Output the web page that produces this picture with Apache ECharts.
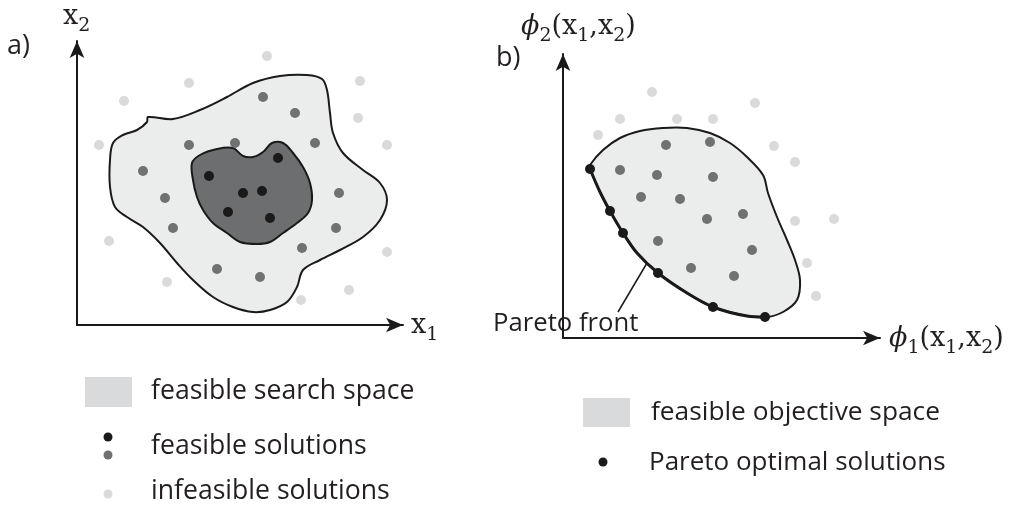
<!DOCTYPE html>
<html><head><meta charset="utf-8">
<script src="https://cdn.jsdelivr.net/npm/echarts@6/dist/echarts.min.js"></script>
<style>html,body{margin:0;padding:0;background:#fff}#c{width:1017px;height:510px}</style>
</head><body><div id="c"></div>
<script>
// ---- Panel a (decision space), units relative to axis origin ----
const outerA = [[71,208],[96,206],[123,215],[150,228],[176,242],[203,249],[230,250],[245,246],[250,235],[253,212],[256,192],[266,172],[286,155],[303,142],[310,125],[303,105],[286,88],[263,75],[243,65],[226,55],[220,38],[210,23],[193,15],[176,13],[156,18],[136,28],[116,45],[100,62],[83,82],[66,98],[50,108],[38,118],[33,138],[33,165],[36,182],[46,190],[60,195],[70,203]];
const innerA = [[115,162],[123,170],[140,176],[156,177],[166,169],[176,168],[186,173],[195,182],[206,182],[216,172],[226,158],[233,142],[235,125],[231,112],[220,102],[206,92],[193,83],[180,81],[163,83],[150,92],[136,102],[126,115],[120,128],[116,145]];
const infeasibleA = [[190,269],[112,242],[47,224],[283,244],[281,207],[22,180],[310,180],[32,84],[310,73],[90,43],[272,35],[224,25]];
const feasibleA = [[186,228],[218,212],[112,180],[158,182],[238,182],[66,154],[88,127],[262,132],[96,97],[259,97],[225,77],[140,56],[183,48]];
const bestA = [[201,167],[132,149],[166,132],[185,134],[151,113],[193,107]];

// ---- Panel b (objective space) ----
const regionB = [[27,173],[40,188],[57,200],[77,207],[100,210],[124,210],[147,205],[167,195],[184,181],[200,163],[205,145],[214,121],[224,98],[232,78],[237,58],[234,38],[220,26],[204,21],[184,22],[150,31],[124,45],[95,65],[74,85],[60,105],[47,127],[37,146],[27,169]];
const paretoFront = [[27,169],[37,146],[47,127],[60,105],[74,85],[95,65],[124,45],[150,31],[184,22],[204,21]];
const paretoPointer = [[84,75],[55,26]];
const infeasibleB = [[89,246],[192,235],[57,219],[114,219],[150,219],[35,203],[211,192],[232,176],[232,117],[271,119],[244,75],[253,42]];
const feasibleB = [[103,193],[147,196],[57,168],[94,163],[150,161],[78,141],[117,139],[180,124],[144,119],[95,97],[189,88],[128,70],[171,62]];
const paretoOptimal = [[27,169],[47,127],[60,105],[95,65],[150,31],[202,21]];

// ---- texts ----
const panelLabels = ['a)', 'b)'];
const axisNamesA = ['{m|x}{s|1}', '{m|x}{s|2}'];
const axisNamesB = ['{p|ϕ}{s|1}{m|(x}{s|1}{m|,x}{s|2}{m|)}', '{p|ϕ}{s|2}{m|(x}{s|1}{m|,x}{s|2}{m|)}'];
const legendA = ['feasible search space', 'feasible solutions', 'infeasible solutions'];
const legendB = ['feasible objective space', 'Pareto optimal solutions'];
const frontLabel = 'Pareto front';

const INK = '#1a1a1a', LIGHT = '#d9dadc', MID = '#707173', DARK = '#6d6e70', FILL = '#ebecec', TXT = '#231f20';
const SANS = '"Open Sans", "Noto Sans", sans-serif';
const SERIF = '"DejaVu Serif", serif';

function axisBase(max) {
  return {
    type: 'value', min: 0, max: max,
    axisLine: { show: true, onZero: false, symbol: ['none', 'arrow'], symbolSize: [11, 17], lineStyle: { color: INK, width: 2 } },
    axisTick: { show: false }, axisLabel: { show: false }, splitLine: { show: false }
  };
}
function region(xi, pts, fill, lw) {
  return {
    type: 'custom', xAxisIndex: xi, yAxisIndex: xi, data: pts, silent: true, z: 1,
    renderItem: function (params, api) {
      if (params.dataIndex !== 0) return null;
      const points = pts.map(function (p) { return api.coord(p); });
      return { type: 'polygon', shape: { points: points, smooth: 0.35 }, style: { fill: fill, stroke: INK, lineWidth: lw } };
    }
  };
}
function dots(xi, data, color, size) {
  return { type: 'scatter', xAxisIndex: xi, yAxisIndex: xi, data: data, symbolSize: size, silent: true, z: 5,
    itemStyle: { color: color, opacity: 1 } };
}
function txt(x, y, text, font, align) {
  return { type: 'text', x: x, y: y, silent: true, z: 10,
    style: { text: text, font: font, fill: TXT, align: align || 'left', verticalAlign: 'middle' } };
}
const mathRich = {
  m: { fontFamily: SERIF, fontSize: 27, lineHeight: 38, verticalAlign: 'middle', fill: TXT },
  p: { fontFamily: SERIF, fontStyle: 'italic', fontSize: 27, lineHeight: 38, verticalAlign: 'middle', fill: TXT },
  s: { fontFamily: SERIF, fontSize: 19, lineHeight: 24, verticalAlign: 'bottom', fill: TXT }
};
function mathTxt(x, y, text) {
  return { type: 'text', x: x, y: y, silent: true, z: 10,
    style: { text: text, rich: mathRich, fill: TXT, align: 'left', verticalAlign: 'middle' } };
}

const chart = echarts.init(document.getElementById('c'), null, { renderer: 'canvas' });
chart.setOption({
  animation: false,
  backgroundColor: '#fff',
  grid: [
    { left: 77, top: 41, width: 326, height: 284 },
    { left: 563, top: 54, width: 317, height: 284 }
  ],
  xAxis: [Object.assign(axisBase(326), { gridIndex: 0 }), Object.assign(axisBase(317), { gridIndex: 1 })],
  yAxis: [Object.assign(axisBase(284), { gridIndex: 0 }), Object.assign(axisBase(284), { gridIndex: 1 })],
  series: [
    region(0, outerA, FILL, 2),
    region(0, innerA, DARK, 2),
    dots(0, infeasibleA, LIGHT, 10),
    dots(0, feasibleA, MID, 10),
    dots(0, bestA, INK, 10),
    region(1, regionB, FILL, 2),
    { type: 'line', xAxisIndex: 1, yAxisIndex: 1, data: paretoFront, smooth: 0.3, symbol: 'none', silent: true, z: 3,
      lineStyle: { color: INK, width: 3 } },
    { type: 'line', xAxisIndex: 1, yAxisIndex: 1, data: paretoPointer, symbol: 'none', silent: true, z: 3,
      lineStyle: { color: INK, width: 1.5 } },
    dots(1, infeasibleB, LIGHT, 10),
    dots(1, feasibleB, MID, 10),
    dots(1, paretoOptimal, INK, 10)
  ],
  graphic: [
    txt(7, 46, panelLabels[0], '27px ' + SANS),
    txt(496, 58, panelLabels[1], '27px ' + SANS),
    mathTxt(411, 326, axisNamesA[0]),
    mathTxt(63, 17, axisNamesA[1]),
    mathTxt(889, 339, axisNamesB[0]),
    mathTxt(521, 27, axisNamesB[1]),
    txt(493, 324, frontLabel, '25.7px ' + SANS),
    { type: 'rect', shape: { x: 85, y: 377, width: 47, height: 30 }, style: { fill: LIGHT }, silent: true },
    { type: 'circle', shape: { cx: 108, cy: 437, r: 4.5 }, style: { fill: INK }, silent: true },
    { type: 'circle', shape: { cx: 108, cy: 455, r: 4.5 }, style: { fill: MID }, silent: true },
    { type: 'circle', shape: { cx: 108, cy: 494, r: 4.5 }, style: { fill: LIGHT }, silent: true },
    txt(151, 391, legendA[0], '26.6px ' + SANS),
    txt(151, 446, legendA[1], '26.6px ' + SANS),
    txt(151, 491, legendA[2], '26.6px ' + SANS),
    { type: 'rect', shape: { x: 583, y: 398, width: 47, height: 29 }, style: { fill: LIGHT }, silent: true },
    { type: 'circle', shape: { cx: 603, cy: 462, r: 4.5 }, style: { fill: INK }, silent: true },
    txt(651, 413, legendB[0], '26.3px ' + SANS),
    txt(649, 463, legendB[1], '26px ' + SANS)
  ]
});
</script>
</body></html>
